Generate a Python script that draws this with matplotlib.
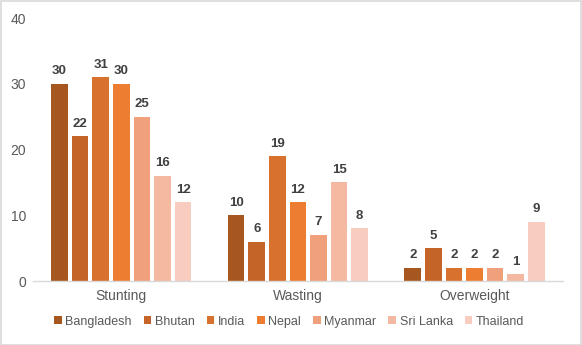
import matplotlib
matplotlib.use("Agg")
import matplotlib.pyplot as plt
import numpy as np
from matplotlib.patches import Patch

categories = ["Stunting", "Wasting", "Overweight"]
countries = ["Bangladesh", "Bhutan", "India", "Nepal", "Myanmar", "Sri Lanka", "Thailand"]
bangladesh = [30, 10, 2]
bhutan = [22, 6, 5]
india = [31, 19, 2]
nepal = [30, 12, 2]
myanmar = [25, 7, 2]
srilanka = [16, 15, 1]
thailand = [12, 8, 9]
series = [bangladesh, bhutan, india, nepal, myanmar, srilanka, thailand]
colors = ["#A5571F", "#C46428", "#D9712E", "#ED7D31", "#F0A07A", "#F4B9A0", "#F8CCBE"]
yticks = [0, 10, 20, 30, 40]

plt.rcParams['font.family'] = ['Liberation Sans', 'DejaVu Sans']
fig = plt.figure(figsize=(5.82, 3.45), dpi=100)
ax = fig.add_axes([0.0567, 0.1855, 0.9103, 0.762])

x = np.arange(len(categories))
pitch = 0.1165
width = 0.094
n = len(series)
for i, (vals, c) in enumerate(zip(series, colors)):
    pos = x + (i - (n - 1) / 2) * pitch
    bars = ax.bar(pos, vals, width=width, color=c, label=countries[i])
    for p, v in zip(pos, vals):
        ax.text(p, v + 1.0, str(v), ha='center', va='bottom', fontsize=9.5,
                fontweight='bold', color='#404040')

ax.set_xlim(-0.5, 2.5)
ax.set_ylim(0, 40)
ax.set_yticks(yticks)
ax.set_yticklabels([str(t) for t in yticks])
ax.set_xticks(x)
ax.set_xticklabels(categories)
ax.tick_params(axis='both', length=0, labelsize=10, colors='#595959')
ax.tick_params(axis='y', pad=5)
ax.tick_params(axis='x', pad=6)
for s in ['top', 'right', 'left']:
    ax.spines[s].set_visible(False)
ax.spines['bottom'].set_color('#D9D9D9')
ax.spines['bottom'].set_linewidth(1.0)

handles = [Patch(facecolor=c, label=l) for c, l in zip(colors, countries)]
fig.legend(handles=handles, loc='center', bbox_to_anchor=(0.497, 0.068), ncol=7,
           frameon=False, fontsize=9, handlelength=0.6, handleheight=0.6,
           handletextpad=0.3, columnspacing=0.95, labelcolor='#595959')

fig.patches.append(plt.Rectangle((0.001, 0.001), 0.997, 0.997, transform=fig.transFigure,
                                 fill=False, edgecolor='#D9D9D9', linewidth=1.2))
fig.savefig("out.png", dpi=100)
